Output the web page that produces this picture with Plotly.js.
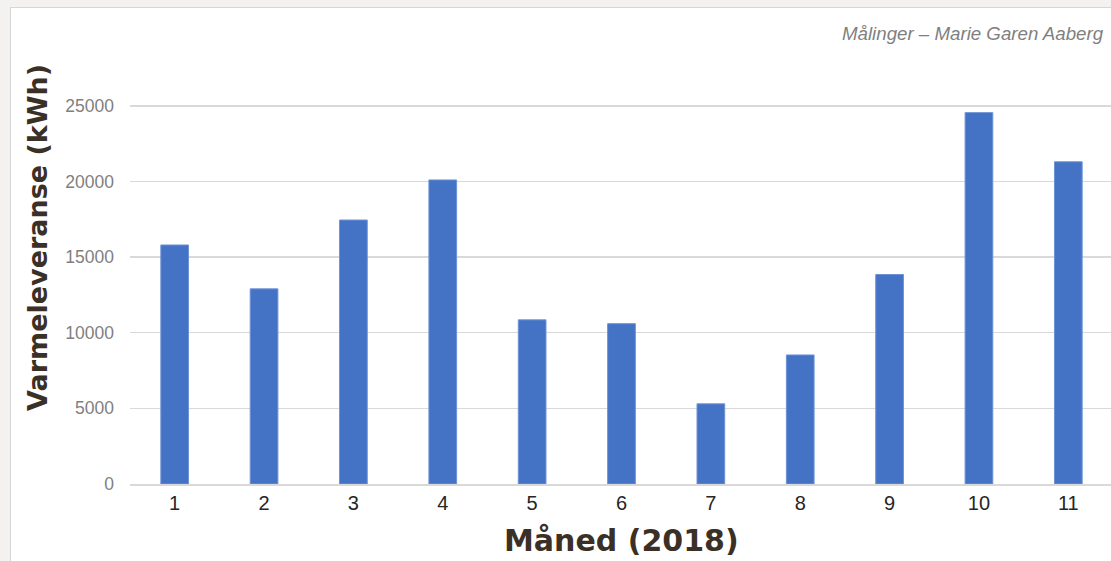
<!DOCTYPE html>
<html>
<head>
<meta charset="utf-8">
<script src="https://cdn.plot.ly/plotly-3.0.1.min.js"></script>
<style>
  html, body { margin: 0; padding: 0; background: #f3f2f0; overflow: hidden; width: 1111px; height: 561px; }
  #chart { position: absolute; left: 10px; top: 7px; width: 1102px; height: 554px;
           border-left: 1px solid #d6d6d6; border-top: 1px solid #d6d6d6; background: #ffffff; }
</style>
</head>
<body>
<div id="chart"></div>
<script>
const months = ["1","2","3","4","5","6","7","8","9","10","11"];
const heatDelivery = [15800, 12900, 17450, 20100, 10850, 10600, 5300, 8530, 13850, 24550, 21300];
const yTickValues = [0, 5000, 10000, 15000, 20000, 25000];
const yTitle = "Varmeleveranse (kWh)";
const xTitle = "Måned (2018)";
const sourceNote = "Målinger – Marie Garen Aaberg";

const trace = {
  type: "bar",
  x: months,
  y: heatDelivery,
  marker: { color: "#4472c4", line: { color: "#6d93d6", width: 1 } },
  hoverinfo: "x+y"
};

const layout = {
  width: 1102,
  height: 553,
  margin: { l: 119, r: 0, t: 60, b: 77, pad: 0 },
  paper_bgcolor: "#ffffff",
  plot_bgcolor: "#ffffff",
  bargap: 0.69,
  showlegend: false,
  xaxis: {
    type: "category",
    showgrid: false,
    showline: true,
    linecolor: "#d9d9d9",
    linewidth: 2,
    ticks: "",
    ticklabelstandoff: 0,
    tickfont: { family: "Liberation Sans, Arial, sans-serif", size: 20, color: "#262626" },
    zeroline: false
  },
  yaxis: {
    range: [0, 27500],
    tickvals: yTickValues,
    ticktext: yTickValues.map(String),
    showgrid: true,
    gridcolor: "#d9d9d9",
    gridwidth: 1.5,
    zeroline: false,
    showline: false,
    ticks: "",
    ticklabelstandoff: 15,
    tickfont: { family: "Liberation Sans, Arial, sans-serif", size: 17.5, color: "#7f7f7f" }
  },
  annotations: [
    {
      text: yTitle, xref: "paper", yref: "paper",
      x: -0.0936, y: 0.594, xanchor: "center", yanchor: "middle",
      textangle: -90, showarrow: false,
      font: { family: "DejaVu Sans, Verdana, sans-serif", size: 27, color: "#3b3026", weight: "bold" }
    },
    {
      text: xTitle, xref: "paper", yref: "paper",
      x: 0.5, y: -0.135, xanchor: "center", yanchor: "middle",
      showarrow: false,
      font: { family: "DejaVu Sans, Verdana, sans-serif", size: 30, color: "#3b3026", weight: "bold" }
    },
    {
      text: "<i>" + sourceNote + "</i>", xref: "paper", yref: "paper",
      x: 0.9925, y: 1.083, xanchor: "right", yanchor: "middle",
      showarrow: false,
      font: { family: "Liberation Sans, Arial, sans-serif", size: 18.7, color: "#7f7f7f" }
    }
  ]
};

Plotly.newPlot("chart", [trace], layout, { displayModeBar: false, staticPlot: true });
</script>
</body>
</html>
